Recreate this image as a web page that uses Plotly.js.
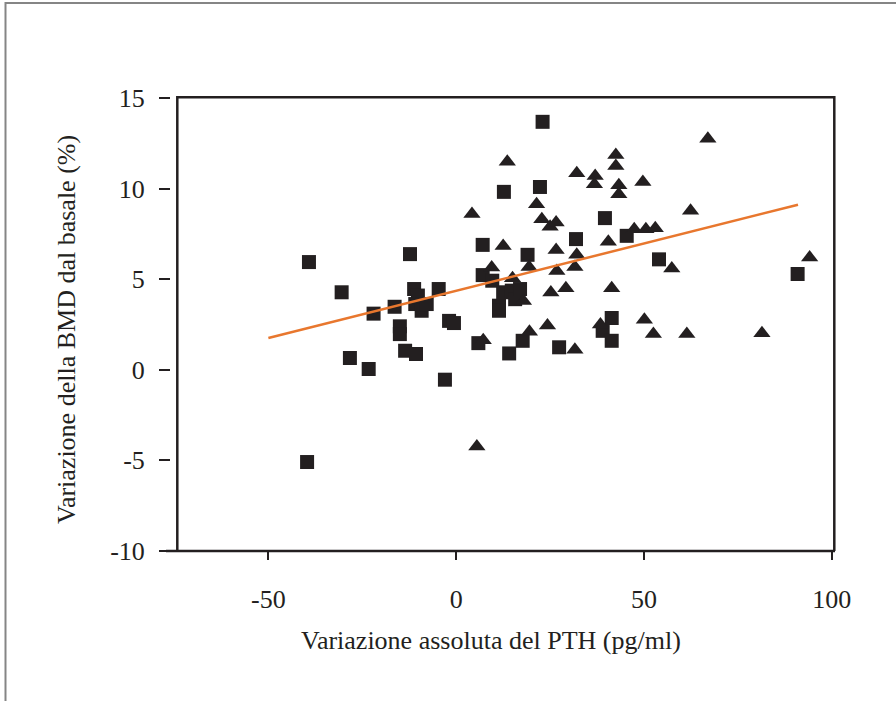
<!DOCTYPE html>
<html>
<head>
<meta charset="utf-8">
<script src="https://cdn.plot.ly/plotly-3.0.1.min.js"></script>
<style>html,body{margin:0;padding:0;background:#fff;}#chart{width:896px;height:701px;}</style>
</head>
<body>
<div id="chart"></div>
<script>
// ---- data ----
const squaresX = [-39.2, -39.7, -30.5, -28.3, -23.3, -22.0, -16.4, -12.3, -11.2, -10.2, -10.9, -9.2, -7.85, -4.66, -15.0, -15.0, -13.6, -10.7, -3.0, -1.9, -0.6, 5.9, 7.05, 7.05, 9.6, 11.4, 11.4, 12.5, 12.7, 14.1, 14.8, 15.7, 17.0, 17.7, 19.0, 22.3, 23.0, 27.4, 31.9, 39.6, 39.0, 41.4, 41.4, 45.4, 54.0, 90.9];
const squaresY = [5.95, -5.1, 4.28, 0.65, 0.04, 3.1, 3.48, 6.39, 4.46, 4.1, 3.63, 3.26, 3.63, 4.46, 2.4, 1.97, 1.05, 0.87, -0.55, 2.7, 2.58, 1.47, 6.9, 5.23, 4.92, 3.54, 3.26, 4.28, 9.83, 0.9, 4.37, 3.9, 4.46, 1.6, 6.35, 10.1, 13.7, 1.24, 7.22, 8.38, 2.15, 2.86, 1.6, 7.4, 6.1, 5.29];

const trianglesX = [13.6, 67.0, 32.1, 37.0, 36.8, 42.5, 42.5, 43.3, 43.3, 49.7, 21.4, 22.8, 25.0, 26.6, 62.4, 47.4, 50.5, 53.0, 4.2, 12.5, 40.5, 26.6, 32.1, 31.6, 26.8, 19.4, 9.45, 15.0, 57.4, 94.1, 25.2, 29.2, 41.4, 17.9, 24.3, 19.5, 7.2, 5.5, 31.6, 38.4, 50.1, 52.5, 61.4, 81.4];
const trianglesY = [11.5, 12.77, 10.86, 10.7, 10.25, 11.87, 11.26, 10.2, 9.7, 10.38, 9.15, 8.32, 7.9, 8.13, 8.78, 7.77, 7.77, 7.82, 8.6, 6.84, 7.07, 6.62, 6.35, 5.68, 5.46, 5.68, 5.65, 5.06, 5.59, 6.2, 4.27, 4.5, 4.5, 3.8, 2.44, 2.1, 1.63, -4.24, 1.1, 2.5, 2.76, 1.97, 1.97, 2.02];

const fitX = [-50, 91];
const fitY = [1.75, 9.12];

const xTickVals = [-50, 0, 50, 100];
const xTickText = ['-50', '0', '50', '100'];
const yTickVals = [-10, -5, 0, 5, 10, 15];
const yTickText = ['-10', '-5', '0', '5', '10', '15'];

const xTitle = 'Variazione assoluta del PTH (pg/ml)';
const yTitle = 'Variazione della BMD dal basale (%)';

// ---- layout geometry (pixels) ----
const W = 896, H = 701;
const L = 171, R = 835, T = 97, B = 551;
const pw = R - L, ph = B - T;
const px = p => (p - L) / pw;      // pixel x -> paper x
const py = p => (B - p) / ph;      // pixel y -> paper y

const ink = '#231f20';
const font = 'Liberation Serif, Times New Roman, serif';

const traces = [
  {x: squaresX, y: squaresY, type: 'scatter', mode: 'markers', name: 'quadrati',
   marker: {symbol: 'square', size: 14, color: ink, line: {width: 0}}},
  {x: trianglesX, y: trianglesY, type: 'scatter', mode: 'markers', name: 'triangoli',
   marker: {symbol: 'triangle-up', size: 15, color: ink, line: {width: 0}}},
  {x: fitX, y: fitY, type: 'scatter', mode: 'lines', name: 'regressione',
   line: {color: '#e8772e', width: 2.5}}
];

const frame = 'M ' + px(166) + ' ' + py(551) + ' L ' + px(835) + ' ' + py(551) +
              ' M ' + px(177.3) + ' ' + py(551) + ' L ' + px(177.3) + ' ' + py(97.3) +
              ' L ' + px(834.3) + ' ' + py(97.3) + ' L ' + px(834.3) + ' ' + py(551);
const outer = 'M ' + px(5.5) + ' ' + py(705) + ' L ' + px(5.5) + ' ' + py(3) +
              ' L ' + px(900) + ' ' + py(3);

const layout = {
  width: W, height: H,
  margin: {l: L, r: W - R, t: T, b: H - B, pad: 0},
  paper_bgcolor: '#ffffff', plot_bgcolor: '#ffffff',
  showlegend: false,
  font: {family: font, color: ink, size: 26},
  xaxis: {
    range: [(L - 456.2) / 3.756, (R - 456.2) / 3.756],
    tickmode: 'array', tickvals: xTickVals, ticktext: xTickText,
    ticks: 'outside', ticklen: 8, tickwidth: 2, tickcolor: ink,
    showline: false, showgrid: false, zeroline: false,
    tickfont: {family: font, size: 26, color: ink},
    ticklabelstandoff: 17
  },
  yaxis: {
    range: [-10 - (B - 550.7) / 18.096, 15 + (98.3 - T) / 18.096],
    tickmode: 'array', tickvals: yTickVals, ticktext: yTickText,
    ticks: 'outside', ticklen: 11, tickwidth: 2, tickcolor: ink,
    showline: false, showgrid: false, zeroline: false,
    tickfont: {family: font, size: 26, color: ink},
    ticklabelstandoff: 9
  },
  shapes: [
    {type: 'path', xref: 'paper', yref: 'paper', path: frame, line: {color: ink, width: 2.5}},
    {type: 'path', xref: 'paper', yref: 'paper', path: outer, line: {color: '#858585', width: 2}}
  ],
  annotations: [
    {text: xTitle, xref: 'paper', yref: 'paper', x: px(491), y: py(640),
     xanchor: 'center', yanchor: 'middle', showarrow: false,
     font: {family: font, size: 26, color: ink}},
    {text: yTitle, xref: 'paper', yref: 'paper', x: px(66), y: py(330),
     xanchor: 'center', yanchor: 'middle', showarrow: false, textangle: -90,
     font: {family: font, size: 26, color: ink}}
  ]
};

Plotly.newPlot('chart', traces, layout, {displayModeBar: false, staticPlot: true});
</script>
</body>
</html>
